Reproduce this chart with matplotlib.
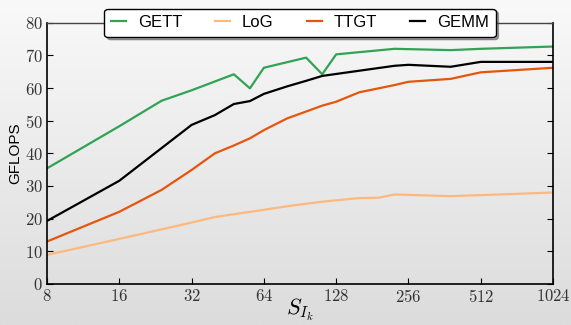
import numpy as np
import matplotlib
matplotlib.use("Agg")
import matplotlib.pyplot as plt
from matplotlib.colors import LinearSegmentedColormap

plt.rcParams['mathtext.fontset'] = 'cm'
plt.rcParams['font.family'] = ['Liberation Sans', 'DejaVu Sans']

gett_x = [8, 16, 24, 32, 48, 56, 64, 96, 112, 128, 224, 384, 512, 1024]
gett_y = [35.4, 48.3, 56.1, 59.3, 64.2, 59.9, 66.2, 69.3, 64.2, 70.3, 72.0, 71.6, 72.0, 72.7]

log_x = [8, 16, 32, 40, 64, 80, 112, 160, 192, 224, 384, 512, 1024]
log_y = [8.9, 13.8, 18.8, 20.5, 22.7, 23.8, 25.2, 26.3, 26.4, 27.4, 26.9, 27.2, 28.0]

ttgt_x = [8, 16, 24, 32, 40, 48, 56, 64, 80, 96, 112, 128, 160, 224, 256, 384, 512, 1024]
ttgt_y = [13.0, 22.1, 28.8, 34.9, 40.0, 42.4, 44.6, 47.1, 50.7, 52.8, 54.6, 55.8, 58.7, 60.9, 61.9, 62.8, 64.8, 66.2]

gemm_x = [8, 16, 32, 40, 48, 56, 64, 80, 96, 112, 160, 224, 256, 384, 512, 1024]
gemm_y = [19.3, 31.6, 48.7, 51.7, 55.1, 56.0, 58.2, 60.5, 62.2, 63.7, 65.3, 66.8, 67.1, 66.5, 68.0, 68.0]

xticks = [8, 16, 32, 64, 128, 256, 512, 1024]
yticks = [0, 10, 20, 30, 40, 50, 60, 70, 80]

fig = plt.figure(figsize=(5.71, 3.25), dpi=100)

# gradient background
bg = fig.add_axes([0, 0, 1, 1], zorder=-10)
grad = np.linspace(0, 1, 256).reshape(-1, 1)
cmap = LinearSegmentedColormap.from_list('bg', ['#f9f9f9', '#dcdcdc'])
bg.imshow(grad, aspect='auto', cmap=cmap, extent=[0, 1, 0, 1])
bg.set_axis_off()

ax = fig.add_axes([0.0823, 0.1262, 0.8862, 0.8040])
ax.set_facecolor('none')

ax.plot(gett_x, gett_y, color='#31a354', lw=1.6, label='GETT')
ax.plot(log_x, log_y, color='#fdb97d', lw=1.6, label='LoG')
ax.plot(ttgt_x, ttgt_y, color='#e6550d', lw=1.6, label='TTGT')
ax.plot(gemm_x, gemm_y, color='black', lw=1.6, label='GEMM')

ax.set_xscale('log', base=2)
ax.set_xlim(8, 1024)
ax.set_ylim(0, 80)
ax.set_xticks(xticks)
ax.set_xticklabels([f'${t}$' for t in xticks], fontsize=12)
ax.minorticks_off()
ax.set_yticks(yticks)
ax.set_yticklabels([f'${t}$' for t in yticks], fontsize=12)
ax.tick_params(direction='in', right=True, top=False, length=4, width=0.8, pad=3, colors='black')
for lab in ax.get_xticklabels() + ax.get_yticklabels():
    lab.set_color('#333333')

ax.set_xlabel('$S_{I_k}$', fontsize=16, labelpad=-6)
ax.set_ylabel('GFLOPS', fontsize=11, labelpad=2)

for s in ['left', 'bottom', 'right']:
    ax.spines[s].set_linewidth(1.2)
ax.spines['top'].set_linewidth(1.0)
ax.spines['top'].set_color('#444444')

leg = ax.legend(loc='center', bbox_to_anchor=(0.5, 1.0), ncol=4, fontsize=12,
                handlelength=0.9, columnspacing=2.0, handletextpad=0.7,
                fancybox=True, shadow=True, framealpha=1, edgecolor='black',
                borderpad=0.4)
leg.get_frame().set_linewidth(1.0)

fig.savefig('out.png', dpi=100)
